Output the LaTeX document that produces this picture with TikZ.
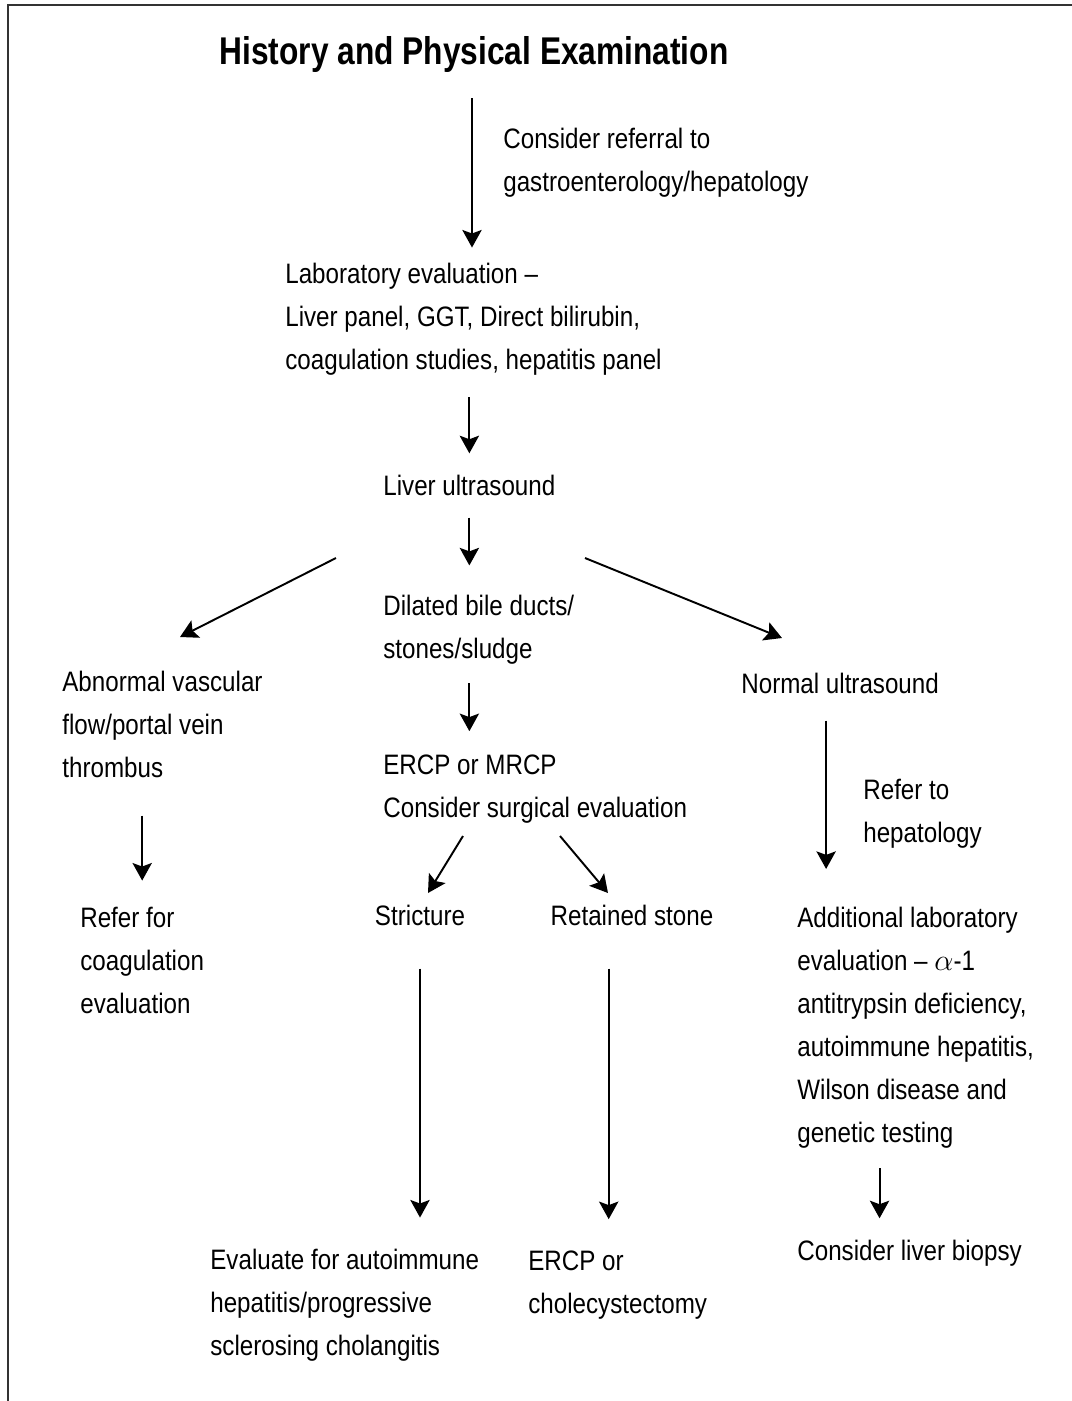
\documentclass[tikz,border=0pt]{standalone}
\usepackage{fontspec}
\setmainfont[FakeStretch=0.86]{Liberation Sans}
\newfontfamily\titlefont[FakeStretch=0.82]{Liberation Sans}
\usetikzlibrary{arrows.meta}

\begin{document}
\begin{tikzpicture}[x=0.02cm,y=-0.02cm,
    txt/.style={inner sep=0pt,align=left,anchor=base west,font=\fontsize{16}{24.4}\selectfont},
    arr/.style={line width=1.1pt,-{Stealth[length=10pt,width=11pt,inset=2pt]}}]
  \useasboundingbox (0,0) rectangle (1072,1401);
  % frame
  \draw[line width=1.2pt,black!80] (1072,5) -- (8,5) -- (8,1401);
  % title and first steps (base of a text = its last line)
  \node[inner sep=0pt,anchor=base,font=\titlefont\fontsize{22}{26}\selectfont\bfseries] (hist) at (474,64) {History and Physical Examination};
  \node[txt] (refgi) at (503,191) {Consider referral to\\gastroenterology/hepatology};
  \node[txt] (lab) at (285,369) {Laboratory evaluation –\\Liver panel, GGT, Direct bilirubin,\\coagulation studies, hepatitis panel};
  \node[txt] (ultra) at (383,495) {Liver ultrasound};
  % three branches
  \node[txt] (abn) at (62,777) {Abnormal vascular\\flow/portal vein\\thrombus};
  \node[txt] (dilated) at (383,658) {Dilated bile ducts/\\stones/sludge};
  \node[txt] (normal) at (741,693) {Normal ultrasound};
  \node[txt] (ercp) at (383,817) {ERCP or MRCP\\Consider surgical evaluation};
  \node[txt] (refhep) at (863,842) {Refer to\\hepatology};
  \node[txt,anchor=base] (stric) at (420,925) {Stricture};
  \node[txt,anchor=base] (stone) at (632,925) {Retained stone};
  \node[txt] (refcoag) at (80,1013) {Refer for\\coagulation\\evaluation};
  \node[txt] (addl) at (797,1142) {Additional laboratory\\evaluation – $\alpha$-1\\antitrypsin deficiency,\\autoimmune hepatitis,\\Wilson disease and\\genetic testing};
  \node[txt] (biopsy) at (797,1260) {Consider liver biopsy};
  \node[txt] (autoimm) at (210,1355) {Evaluate for autoimmune\\hepatitis/progressive\\sclerosing cholangitis};
  \node[txt] (chole) at (528,1313) {ERCP or\\cholecystectomy};
  % vertical arrows
  \draw[arr,shorten <=0.52cm,shorten >=0.30cm,transform canvas={xshift=-0.04cm}] (hist.south) -- (hist.south |- lab.north);
  \draw[arr,shorten <=0.44cm,shorten >=0.42cm] (lab.south -| ultra.north) -- (ultra.north);
  \draw[arr,shorten <=0.44cm,shorten >=0.58cm] (ultra.south) -- (ultra.south |- dilated.north);
  \draw[arr,shorten <=0.38cm,shorten >=0.46cm] (dilated.south -| ultra.south) -- (ercp.north -| ultra.south);
  \draw[arr,shorten <=0.76cm,shorten >=0.52cm] (abn.south -| refcoag.north) -- (refcoag.north);
  \draw[arr,shorten <=0.86cm,shorten >=0.62cm] (stric.south) -- (stric.south |- autoimm.north);
  \draw[arr,shorten <=0.86cm,shorten >=0.62cm,transform canvas={xshift=-0.18cm}] (stone.south -| chole.north) -- (chole.north);
  \draw[arr,shorten <=0.54cm,shorten >=0.76cm,transform canvas={xshift=-0.28cm}] (normal.south) -- (normal.south |- addl.north);
  \draw[arr,shorten <=0.40cm,shorten >=0.42cm,transform canvas={xshift=-0.60cm}] (addl.south -| biopsy.north) -- (biopsy.north);
  % slanted arrows
  \coordinate (us-l) at (336,558);
  \coordinate (abn-in) at (180,637);
  \coordinate (us-r) at (585,558);
  \coordinate (normal-in) at (782,638);
  \coordinate (ercp-l) at (463,836);
  \coordinate (stric-in) at (428,893);
  \coordinate (ercp-r) at (560,836);
  \coordinate (stone-in) at (608,893);
  \draw[arr] (us-l) -- (abn-in);
  \draw[arr] (us-r) -- (normal-in);
  \draw[arr] (ercp-l) -- (stric-in);
  \draw[arr] (ercp-r) -- (stone-in);
\end{tikzpicture}
\end{document}
